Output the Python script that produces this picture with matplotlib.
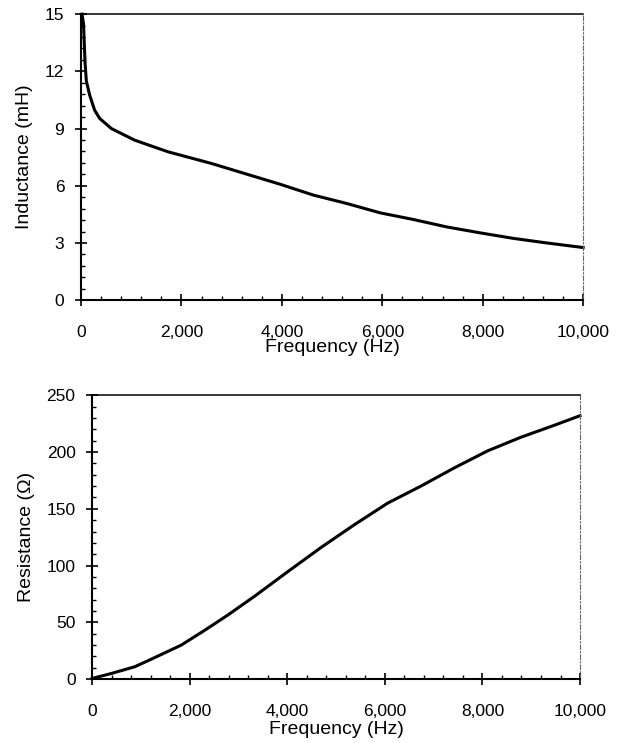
import matplotlib
matplotlib.use("Agg")
import matplotlib.pyplot as plt
from matplotlib.ticker import MultipleLocator, FuncFormatter

plt.rcParams['font.family'] = ['Liberation Sans', 'DejaVu Sans']

# Inductance vs frequency
freq_L = [20, 50, 80, 106, 173, 272, 372, 604, 1069, 1733, 2596, 3261, 3964,
          4628, 5293, 5956, 6620, 7285, 7948, 8612, 9277, 10000]
inductance = [15.0, 14.5, 12.5, 11.5, 10.75, 9.96, 9.53, 9.0, 8.39, 7.78, 7.17, 6.64, 6.08,
              5.51, 5.07, 4.58, 4.23, 3.84, 3.53, 3.24, 3.00, 2.76]

# Resistance vs frequency
freq_R = [0, 396, 873, 1214, 1828, 2306, 2783, 3329, 4011, 4693, 5375, 6057,
          6739, 7421, 8104, 8786, 9468, 10000]
resistance = [0.6, 5, 10.9, 17.6, 30, 43, 56.5, 73, 94.7, 116, 136, 155,
              170, 186, 201, 213, 223.5, 232]

x_ticks = [0, 2000, 4000, 6000, 8000, 10000]
L_ticks = [0, 3, 6, 9, 12, 15]
R_ticks = [0, 50, 100, 150, 200, 250]

fig = plt.figure(figsize=(6.23, 7.43), dpi=100)
ax1 = fig.add_axes([0.130, 0.596, 0.806, 0.385])
ax2 = fig.add_axes([0.148, 0.086, 0.783, 0.382])

fmt = FuncFormatter(lambda v, p: f"{int(v):,}")

def style(ax, yticks, yminor, ylabel, xl_coords, yl_coords):
    ax.set_xlim(0, 10000)
    ax.set_ylim(yticks[0], yticks[-1])
    ax.set_xticks(x_ticks)
    ax.set_yticks(yticks)
    ax.xaxis.set_major_formatter(fmt)
    ax.xaxis.set_minor_locator(MultipleLocator(400))
    ax.yaxis.set_minor_locator(MultipleLocator(yminor))
    ax.tick_params(which='major', direction='inout', length=8, width=1.2,
                   labelsize=12.5, color='black')
    ax.tick_params(axis='x', which='major', pad=14)
    ax.tick_params(axis='y', which='major', pad=8)
    ax.tick_params(which='minor', direction='in', length=3, width=1.0, color='black')
    ax.tick_params(top=False, right=False)
    for s in ['left', 'bottom']:
        ax.spines[s].set_linewidth(1.5)
    ax.spines['top'].set_linewidth(1.1)
    ax.spines['right'].set_linewidth(0.8)
    ax.spines['right'].set_linestyle((0, (4, 2, 1, 2)))
    ax.spines['right'].set_color('#666666')
    ax.set_xlabel('Frequency (Hz)', fontsize=14)
    ax.set_ylabel(ylabel, fontsize=14)
    ax.xaxis.set_label_coords(*xl_coords)
    ax.yaxis.set_label_coords(*yl_coords)

ax1.plot(freq_L, inductance, color='black', linewidth=2.2, clip_on=False)
style(ax1, L_ticks, 0.6, 'Inductance (mH)', (0.5, -0.137), (-0.0956, 0.5))

ax2.plot(freq_R, resistance, color='black', linewidth=2.2, clip_on=False)
style(ax2, R_ticks, 10, 'Resistance (\u03a9)', (0.5, -0.148), (-0.117, 0.5))

fig.savefig('out.png', dpi=100)
